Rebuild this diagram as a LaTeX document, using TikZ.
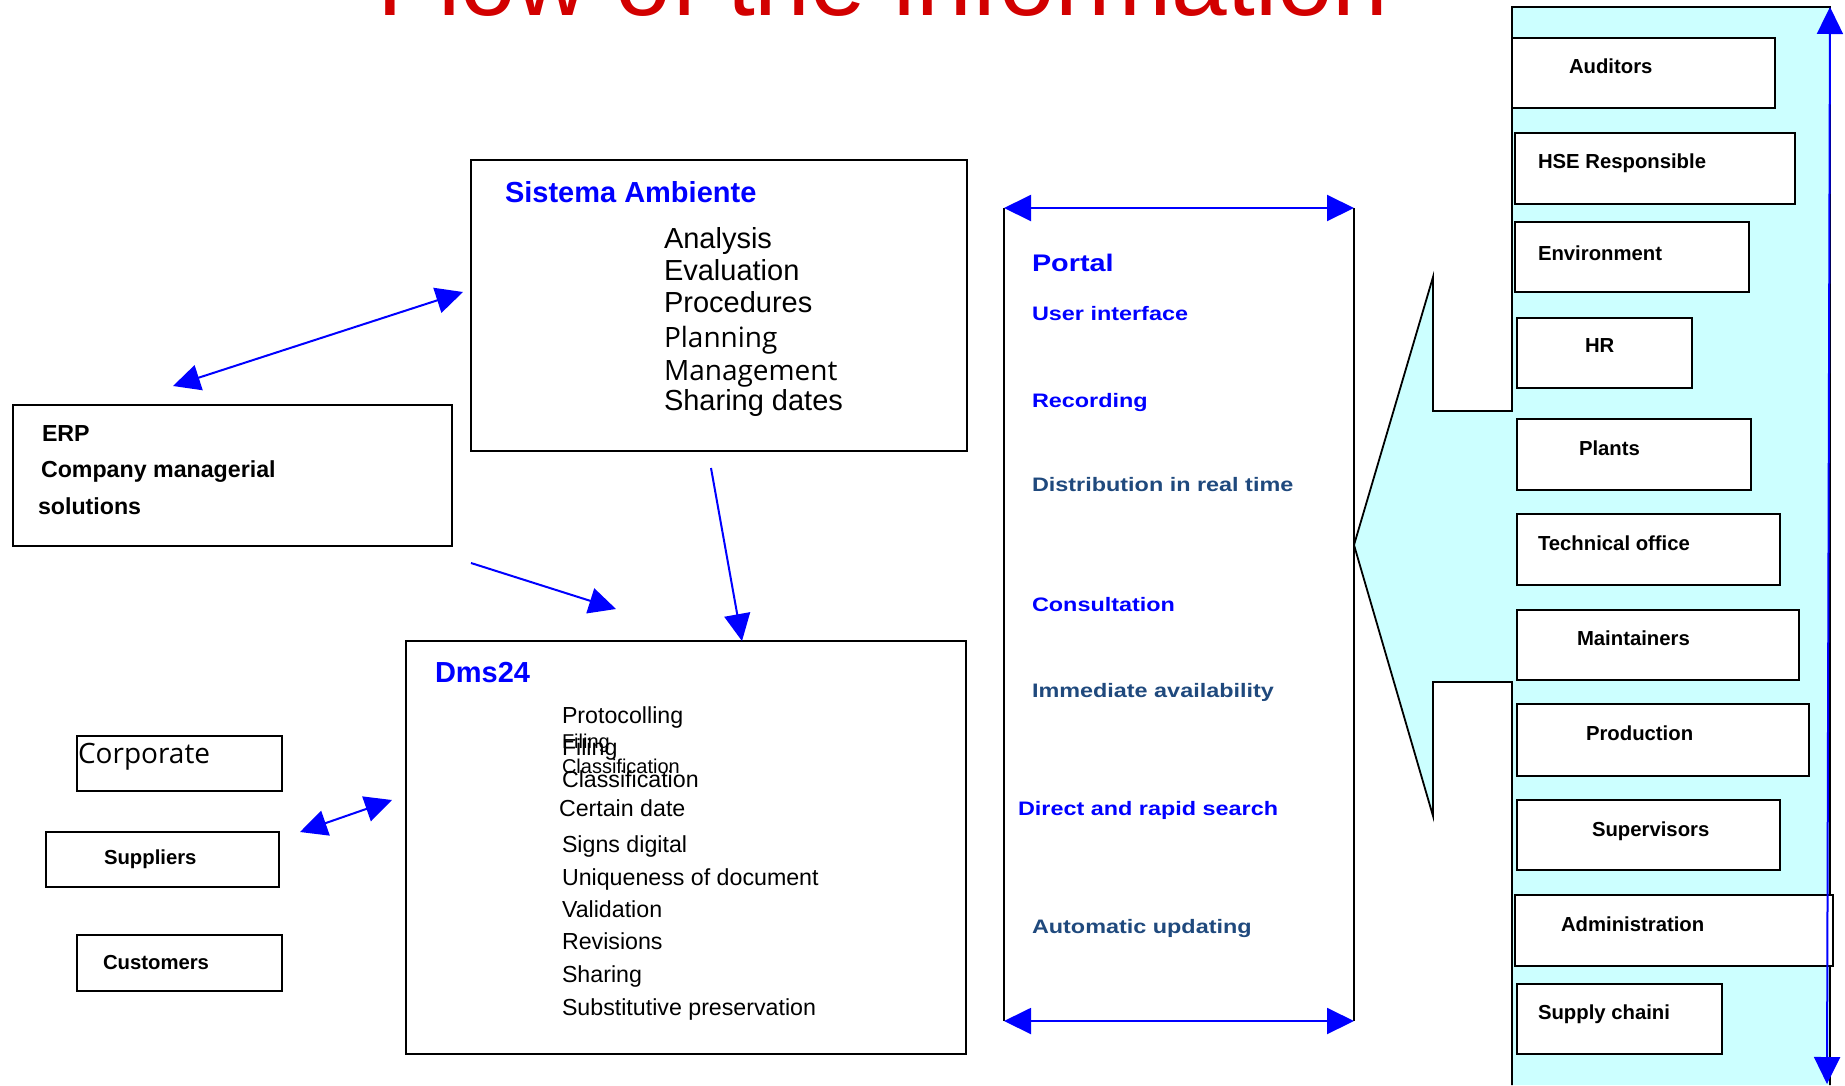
\documentclass[tikz,border=0pt]{standalone}
\usepackage{fontspec}
\setmainfont{Liberation Sans}
\newfontfamily\osans{Open Sans}
\newfontfamily\pfont{Liberation Sans}[FakeStretch=1.2]
\usetikzlibrary{arrows.meta}
\definecolor{tred}{RGB}{210,0,0}
\definecolor{slate}{RGB}{31,73,125}
\definecolor{panelcyan}{RGB}{204,255,255}
\definecolor{pblue}{RGB}{0,0,255}
\newcommand{\fsz}[1]{\fontsize{#1}{#1}\selectfont}
\begin{document}
\begin{tikzpicture}[x=1pt,y=-1pt,
  box/.style={draw, line width=1.8pt, fill=white, rectangle, anchor=north west, inner sep=0pt, outer sep=0pt},
  txt/.style={anchor=base west, inner sep=0pt, outer sep=0pt},
  role/.style={txt, font=\bfseries\fsz{20.3}},
  head/.style={txt, text=pblue, font=\bfseries\fsz{29}},
  item/.style={txt, font=\fsz{29}},
  oitem/.style={txt, font=\osans\fsz{28}},
  ditem/.style={txt, font=\fsz{23.2}},
  sitem/.style={txt, font=\fsz{20}},
  ptxt/.style={txt, font=\pfont\bfseries\fsz{19.5}},
  tipb/.tip={Triangle[length=27pt,width=26pt]},
  arr/.style={draw=pblue, line width=2pt, -tipb, fill=pblue},
  darr/.style={draw=pblue, line width=2pt, tipb-tipb, fill=pblue},
  edge/.style={draw=black, line width=1.8pt}
]
\useasboundingbox (0,0) rectangle (1845,1085);
\begin{scope}
\clip (0,0) rectangle (1845,1085);
\node[txt, text=tred, font=\fsz{100}] (title) at (377,15) {Flow of the information};
\end{scope}

% Sistema Ambiente
\node[box, minimum width=496pt, minimum height=291pt] (sis) at (471,160) {};
\node[head] (sish) at (505,202) {Sistema Ambiente};
\node[item] (s1) at (664,248) {Analysis};
\node[item] (s2) at (664,280) {Evaluation};
\node[item] (s3) at (664,312) {Procedures};
\node[oitem] (s4) at (664,347) {Planning};
\node[oitem] (s5) at (664,380) {Management};
\node[item] (s6) at (664,410) {Sharing dates};

% ERP
\node[box, minimum width=439pt, minimum height=141pt] (erp) at (13,405) {};
\node[txt, font=\bfseries\fsz{23.2}] (erp1) at (42,441) {ERP};
\node[txt, font=\bfseries\fsz{23.2}] (erp2) at (41,477) {Company managerial};
\node[txt, font=\bfseries\fsz{23.2}] (erp3) at (38,514) {solutions};

% Dms24
\node[box, minimum width=560pt, minimum height=413pt] (dms) at (406,641) {};
\node[head] (dmsh) at (435,682) {Dms24};
\node[ditem] (d1) at (562,723) {Protocolling};
\node[sitem] (d2s) at (562,748) {Filing};
\node[ditem] (d2) at (562,755) {Filing};
\node[sitem] (d3s) at (562,773) {Classification};
\node[ditem] (d3) at (562,787) {Classification};
\node[ditem] (d4) at (559,816) {Certain date};
\node[ditem] (d5) at (562,852) {Signs digital};
\node[ditem] (d6) at (562,885) {Uniqueness of document};
\node[ditem] (d7) at (562,917) {Validation};
\node[ditem] (d8) at (562,949) {Revisions};
\node[ditem] (d9) at (562,982) {Sharing};
\node[ditem] (d10) at (562,1015) {Substitutive preservation};

% left boxes
\node[box, minimum width=205pt, minimum height=55pt] (corp) at (77,736) {};
\node[txt, font=\osans\fsz{28}] (corpt) at (78,763) {Corporate};
\node[box, minimum width=233pt, minimum height=55pt] (supp) at (46,832) {};
\node[role] (suppt) at (104,864) {Suppliers};
\node[box, minimum width=205pt, minimum height=56pt] (cust) at (77,935) {};
\node[role] (custt) at (103,969) {Customers};

% arrows
\coordinate (erpA) at (173,386);
\coordinate (sisA) at (463,292);
\draw[darr] (erpA) -- (sisA);
\coordinate (erpB) at (471,563);
\coordinate (dmsB) at (616,609);
\draw[arr] (erpB) -- (dmsB);
\coordinate (sisC) at (711,468);
\coordinate (dmsC) at (742,641);
\draw[arr] (sisC) -- (dmsC);
\coordinate (suppD) at (300,832);
\coordinate (dmsD) at (392,800);
\draw[darr] (suppD) -- (dmsD);

% right panel
\fill[panelcyan] (1512,7) -- (1830,7) -- (1830,1085) -- (1512,1085) -- (1512,682) -- (1433,682)
  -- (1433,816) -- (1354,545) -- (1433,277) -- (1433,411) -- (1512,411) -- cycle;
\draw[edge] (1512,1085) -- (1512,682) -- (1433,682) -- (1433,816) -- (1354,545) -- (1433,277)
  -- (1433,411) -- (1512,411) -- (1512,7) -- (1830,7) -- (1830,1085);

\node[box, minimum width=263pt, minimum height=70pt] (aud) at (1512,38) {};
\node[role] (audt) at (1569,73) {Auditors};
\node[box, minimum width=280pt, minimum height=71pt] (hse) at (1515,133) {};
\node[role] (hset) at (1538,168) {HSE Responsible};
\node[box, minimum width=234pt, minimum height=70pt] (env) at (1515,222) {};
\node[role] (envt) at (1538,260) {Environment};
\node[box, minimum width=175pt, minimum height=70pt] (hr) at (1517,318) {};
\node[role] (hrt) at (1585,352) {HR};
\node[box, minimum width=234pt, minimum height=71pt] (pla) at (1517,419) {};
\node[role] (plat) at (1579,455) {Plants};
\node[box, minimum width=263pt, minimum height=71pt] (tec) at (1517,514) {};
\node[role] (tect) at (1538,550) {Technical office};
\node[box, minimum width=282pt, minimum height=70pt] (mai) at (1517,610) {};
\node[role] (mait) at (1577,645) {Maintainers};
\node[box, minimum width=292pt, minimum height=72pt] (pro) at (1517,704) {};
\node[role] (prot) at (1586,740) {Production};
\node[box, minimum width=263pt, minimum height=70pt] (sup) at (1517,800) {};
\node[role] (supt) at (1592,836) {Supervisors};
\node[box, minimum width=318pt, minimum height=71pt] (adm) at (1515,895) {};
\node[role] (admt) at (1561,931) {Administration};
\node[box, minimum width=205pt, minimum height=70pt] (sch) at (1517,984) {};
\node[role] (scht) at (1538,1019) {Supply chaini};

\coordinate (panTop) at (1830,7);
\coordinate (panBot) at (1827,1084);
\draw[darr] (panBot) -- (panTop);

% Portal
\node[minimum width=350pt, minimum height=813pt, anchor=north west, inner sep=0pt, outer sep=0pt] (portal) at (1004,208) {};
\draw[edge] (portal.north west) -- (portal.south west);
\draw[edge] (portal.north east) -- (portal.south east);
\draw[darr] (portal.north west) -- (portal.north east);
\draw[darr] (portal.south west) -- (portal.south east);
\node[txt, text=pblue, font=\pfont\bfseries\fsz{24}] (pt0) at (1032,271) {Portal};
\node[ptxt, text=pblue] (pt1) at (1032,320) {User interface};
\node[ptxt, text=pblue] (pt2) at (1032,407) {Recording};
\node[ptxt, text=slate] (pt3) at (1032,491) {Distribution in real time};
\node[ptxt, text=pblue] (pt4) at (1032,611) {Consultation};
\node[ptxt, text=slate] (pt5) at (1032,697) {Immediate availability};
\node[ptxt, text=pblue] (pt6) at (1018,815) {Direct and rapid search};
\node[ptxt, text=slate] (pt7) at (1032,933) {Automatic updating};
\end{tikzpicture}
\end{document}
